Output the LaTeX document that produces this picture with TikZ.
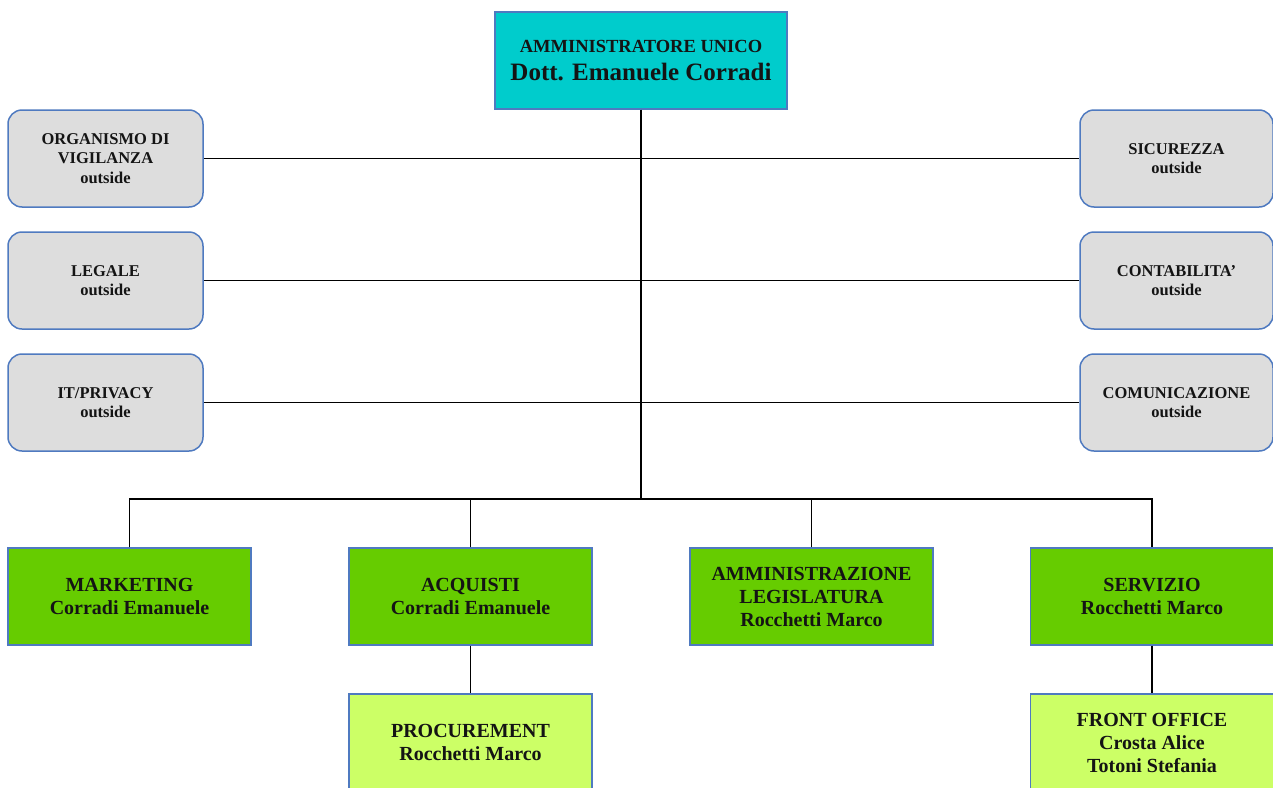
\documentclass[tikz,border=0pt]{standalone}
\usepackage{fontspec}
\setmainfont{Liberation Serif}
\definecolor{topfill}{HTML}{00CCCC}
\definecolor{boxedge}{HTML}{4F7AC0}
\definecolor{grayfill}{HTML}{DDDDDD}
\definecolor{greenfill}{HTML}{66CC00}
\definecolor{lightgreen}{HTML}{CCFF66}
\definecolor{txt}{HTML}{141414}
\tikzset{
  base/.style={draw=boxedge, line width=1.2pt, inner sep=0pt, align=center, text=txt, font=\bfseries},
  topbox/.style={base, fill=topfill, minimum width=292pt, minimum height=97pt,
     font=\bfseries\fontsize{18.5}{28}\selectfont},
  graybox/.style={base, fill=grayfill, rounded corners=14pt, line width=1.5pt, minimum width=195pt, minimum height=97pt,
     font=\bfseries\fontsize{16.5}{19.5}\selectfont},
  greenbox/.style={base, fill=greenfill, minimum width=243pt, minimum height=97pt,
     font=\bfseries\fontsize{20}{23}\selectfont},
  subbox/.style={base, fill=lightgreen, minimum width=243pt, minimum height=97pt,
     font=\bfseries\fontsize{20}{23}\selectfont},
  link/.style={draw=black, line width=1.8pt}
}
\begin{document}
\begin{tikzpicture}[x=1pt,y=-1pt]
\path[use as bounding box, clip] (0,0) rectangle (1273,787);
\fill[white] (0,0) rectangle (1273,787);

\node[topbox] (top) at (641,60.5) {AMMINISTRATORE UNICO\\{\fontsize{25}{28}\selectfont Dott. Emanuele Corradi}};

\node[graybox] (lg1) at (105.5,158.5) {ORGANISMO DI\\VIGILANZA\\outside};
\node[graybox] (lg2) at (105.5,280.5) {LEGALE\\outside};
\node[graybox] (lg3) at (105.5,402.5) {IT/PRIVACY\\outside};
\node[graybox, minimum width=193pt] (rg1) at (1176.5,158.5) {SICUREZZA\\outside};
\node[graybox, minimum width=193pt] (rg2) at (1176.5,280.5) {CONTABILITA'\\outside};
\node[graybox, minimum width=193pt] (rg3) at (1176.5,402.5) {COMUNICAZIONE\\outside};

\coordinate (bus) at (641,499);

\node[greenbox] (mk) at (129.5,596.5) {MARKETING\\Corradi Emanuele};
\node[greenbox] (aq) at (470.5,596.5) {ACQUISTI\\Corradi Emanuele};
\node[greenbox] (am) at (811.5,596.5) {AMMINISTRAZIONE\\LEGISLATURA\\Rocchetti Marco};
\node[greenbox] (sv) at (1152,596.5) {SERVIZIO\\Rocchetti Marco};

\node[subbox] (pr) at (470.5,742.5) {PROCUREMENT\\Rocchetti Marco};
\node[subbox] (fo) at (1152,742.5) {FRONT OFFICE\\Crosta Alice\\Totoni Stefania};

\draw[link] (top.south) -- (bus);
\draw[link] (lg1.east) -- (rg1.west);
\draw[link] (lg2.east) -- (rg2.west);
\draw[link] (lg3.east) -- (rg3.west);
\draw[link] (mk.north) |- (bus) -| (sv.north);
\draw[link] (aq.north) -- (aq.north |- bus);
\draw[link] (am.north) -- (am.north |- bus);
\draw[link] (aq.south) -- (pr.north);
\draw[link] (sv.south) -- (fo.north);
\end{tikzpicture}
\end{document}
